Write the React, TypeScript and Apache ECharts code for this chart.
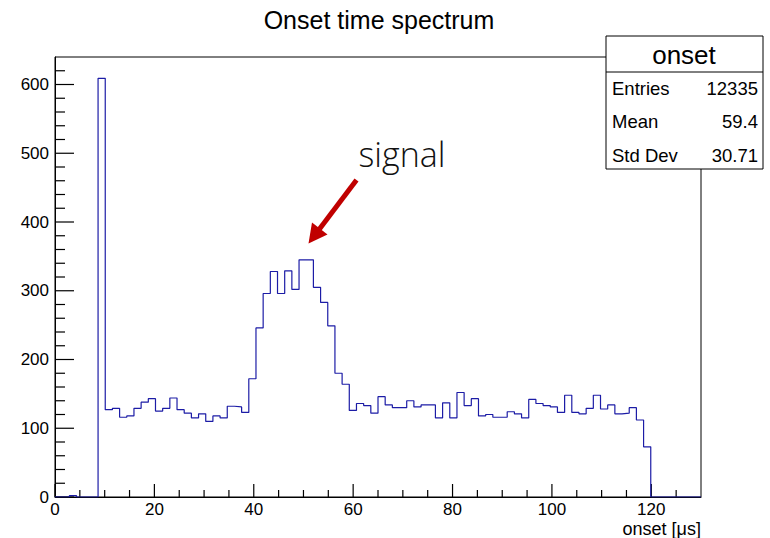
import React, { useEffect, useRef } from "react";
import * as echarts from "echarts";

// Histogram "onset": 90 bins from 0 to 130 µs
const histMin = 0;
const histMax = 130;
const binCount = 90;
const counts: number[] = [
  0, 0, 2, 0, 0, 0, 609, 127, 129, 116,
  118, 129, 138, 143, 125, 129, 144, 127, 122, 115,
  121, 110, 118, 115, 132, 131, 123, 172, 246, 296,
  328, 296, 329, 302, 345, 345, 305, 283, 249, 180,
  164, 126, 136, 133, 122, 146, 134, 130, 130, 140,
  131, 134, 134, 115, 137, 115, 152, 133, 143, 118,
  120, 116, 116, 124, 121, 115, 142, 136, 133, 131,
  123, 148, 123, 121, 129, 148, 128, 134, 121, 122,
  130, 112, 73, 0, 0, 0, 0, 0, 0, 0,
];

const yMax = 640;
const xMajorTicks = [0, 20, 40, 60, 80, 100, 120];
const xMinorTicks = [
  5, 10, 15, 25, 30, 35, 45, 50, 55, 65, 70, 75, 85, 90, 95, 105, 110, 115, 125,
];
const yMajorTicks = [0, 100, 200, 300, 400, 500, 600];
const yMinorTicks = [
  20, 40, 60, 80, 120, 140, 160, 180, 220, 240, 260, 280, 320, 340, 360, 380,
  420, 440, 460, 480, 520, 540, 560, 580, 620,
];

const statTitle = "onset";
const statLabels = ["Entries", "Mean", "Std Dev"];
const statValues = ["12335", "59.4", "30.71"];
const chartTitle = "Onset time spectrum";
const xAxisTitle = "onset [\u03bcs]";
const annotation = "signal";

const FONT = "'Liberation Sans', Arial, Helvetica, sans-serif";

function tickSeries(values: number[], dir: "x" | "y", len: number) {
  return {
    type: "custom",
    coordinateSystem: "cartesian2d",
    data: values.map((v) => (dir === "x" ? [v, 0] : [histMin, v])),
    renderItem: (_params: any, api: any) => {
      const p = api.coord([api.value(0), api.value(1)]);
      if (dir === "x") {
        return {
          type: "line",
          shape: { x1: p[0], y1: p[1], x2: p[0], y2: p[1] - len },
          style: { stroke: "#000", lineWidth: 1.2 },
        };
      }
      return {
        type: "line",
        shape: { x1: p[0], y1: p[1], x2: p[0] + len, y2: p[1] },
        style: { stroke: "#000", lineWidth: 1.2 },
      };
    },
  };
}

export default function App() {
  const ref = useRef<HTMLDivElement>(null);

  useEffect(() => {
    if (!ref.current) return;
    const chart = echarts.init(ref.current, null, { renderer: "svg" });
    const w = (histMax - histMin) / binCount;
    const data: [number, number][] = counts.map((c, k) => [histMin + k * w, c]);
    data.push([histMax, 0]);

    const baseLabel = { color: "#000", fontSize: 17, fontFamily: FONT };

    chart.setOption({
      animation: false,
      grid: { left: 55, right: 69, top: 57, bottom: 41, show: true, borderColor: "#000" },
      xAxis: {
        type: "value",
        min: histMin,
        max: histMax,
        interval: 20,
        axisLine: { show: true, lineStyle: { color: "#000" } },
        axisTick: { show: false },
        splitLine: { show: false },
        axisLabel: { ...baseLabel, margin: 4, showMaxLabel: false },
      },
      yAxis: {
        type: "value",
        min: 0,
        max: yMax,
        interval: 100,
        axisLine: { show: true, lineStyle: { color: "#000" } },
        axisTick: { show: false },
        splitLine: { show: false },
        axisLabel: { ...baseLabel, margin: 6, showMaxLabel: false },
      },
      series: [
        {
          type: "line",
          step: "end",
          data,
          showSymbol: false,
          symbol: "none",
          lineStyle: { color: "#1c1ca6", width: 1.2 },
        },
        tickSeries(xMajorTicks, "x", 13),
        tickSeries(xMinorTicks, "x", 7),
        tickSeries(yMajorTicks, "y", 19),
        tickSeries(yMinorTicks, "y", 10),
      ],
    });

    chart.setOption({
      graphic: [
        {
          type: "text",
          style: {
            text: chartTitle,
            x: 379,
            y: 20,
            textAlign: "center",
            textVerticalAlign: "middle",
            font: `25px ${FONT}`,
            fill: "#000",
          },
        },
        {
          type: "text",
          style: {
            text: xAxisTitle,
            x: 701,
            y: 529,
            textAlign: "right",
            textVerticalAlign: "middle",
            font: `18px ${FONT}`,
            fill: "#000",
          },
        },
        {
          type: "rect",
          shape: { x: 606, y: 36, width: 157, height: 133 },
          style: { fill: "#fff", stroke: "#000", lineWidth: 1 },
          z: 10,
        },
        {
          type: "line",
          shape: { x1: 606, y1: 72, x2: 763, y2: 72 },
          style: { stroke: "#000", lineWidth: 1 },
          z: 11,
        },
        {
          type: "text",
          style: {
            text: statTitle,
            x: 684,
            y: 55,
            textAlign: "center",
            textVerticalAlign: "middle",
            font: `26px ${FONT}`,
            fill: "#000",
          },
          z: 11,
        },
        ...statLabels.map((t, i) => ({
          type: "text",
          style: {
            text: t,
            x: 612,
            y: 88 + i * 33.5,
            textAlign: "left",
            textVerticalAlign: "middle",
            font: `18.5px ${FONT}`,
            fill: "#000",
          },
          z: 11,
        })),
        ...statValues.map((t, i) => ({
          type: "text",
          style: {
            text: t,
            x: 758,
            y: 88 + i * 33.5,
            textAlign: "right",
            textVerticalAlign: "middle",
            font: `18.5px ${FONT}`,
            fill: "#000",
          },
          z: 11,
        })),
        {
          type: "text",
          style: {
            text: annotation,
            x: 402,
            y: 154,
            textAlign: "center",
            textVerticalAlign: "middle",
            font: `300 34px 'Open Sans', Lato, sans-serif`,
            fill: "#111",
          },
        },
        {
          type: "line",
          shape: { x1: 356.5, y1: 180, x2: 319.5, y2: 229 },
          style: { stroke: "#c00000", lineWidth: 5 },
        },
        {
          type: "polygon",
          shape: { points: [[308.5, 243.5], [327.5, 234.5], [312, 222.5]] },
          style: { fill: "#c00000" },
        },
      ],
    });
    return () => chart.dispose();
  }, []);

  return (
    <div
      ref={ref}
      style={{ position: "fixed", left: 0, top: 0, width: 770, height: 538, background: "#fff" }}
    />
  );
}
